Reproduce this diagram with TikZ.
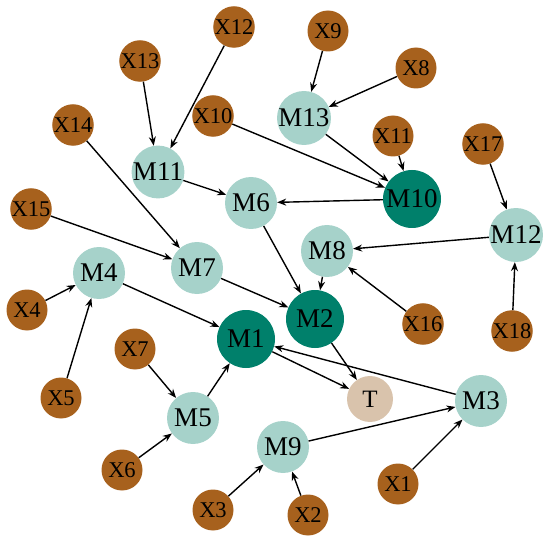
\documentclass[tikz,border=0pt]{standalone}
\usepackage{fontspec}
\setmainfont{Liberation Serif}
\usetikzlibrary{arrows.meta}
\definecolor{xbrown}{HTML}{A7611D}
\definecolor{mlight}{HTML}{A6D2CA}
\definecolor{mdeep}{HTML}{00806B}
\definecolor{tbeige}{HTML}{D9C3AC}
\begin{document}
\begin{tikzpicture}[x=1pt,y=-1pt]
        \tikzstyle{xnode}=[circle,fill=xbrown,minimum size=41pt,inner sep=0pt,font=\fontsize{22.5}{22.5}\selectfont]
        \tikzstyle{mnode}=[circle,fill=mlight,minimum size=52pt,inner sep=0pt,font=\fontsize{27}{27}\selectfont]
        \tikzstyle{mdark}=[mnode,fill=mdeep,minimum size=58pt]
        \tikzstyle{tnode}=[circle,fill=tbeige,minimum size=46pt,inner sep=0pt,font=\fontsize{25}{25}\selectfont]
        \tikzstyle{edge}=[-{Stealth[length=9pt,width=7pt]},line width=1.4pt]
        \useasboundingbox (0,0) rectangle (550,543);
        % sources
        \node[xnode] (X1) at (398,484) {X1};
        \node[xnode] (X2) at (308,515) {X2};
        \node[xnode] (X3) at (213,510) {X3};
        \node[xnode] (X4) at (27,310) {X4};
        \node[xnode] (X5) at (61,398) {X5};
        \node[xnode] (X6) at (122,470) {X6};
        \node[xnode] (X7) at (135,349) {X7};
        \node[xnode] (X8) at (416,68) {X8};
        \node[xnode] (X9) at (328,31) {X9};
        \node[xnode] (X10) at (213,116) {X10};
        \node[xnode] (X11) at (393,136) {X11};
        \node[xnode] (X12) at (234,27) {X12};
        \node[xnode] (X13) at (140,61) {X13};
        \node[xnode] (X14) at (73,125) {X14};
        \node[xnode] (X15) at (31,209) {X15};
        \node[xnode] (X16) at (423,324) {X16};
        \node[xnode] (X17) at (483,144) {X17};
        \node[xnode] (X18) at (512,331) {X18};
        % mediators
        \node[mdark] (M1) at (246,339) {M1};
        \node[mdark] (M2) at (315,319) {M2};
        \node[mnode] (M3) at (481,401) {M3};
        \node[mnode] (M4) at (99,273) {M4};
        \node[mnode] (M5) at (193,418) {M5};
        \node[mnode] (M6) at (251,203) {M6};
        \node[mnode] (M7) at (197,268) {M7};
        \node[mnode] (M8) at (327,251) {M8};
        \node[mnode] (M9) at (283,447) {M9};
        \node[mdark] (M10) at (412,199) {M10};
        \node[mnode] (M11) at (158,172) {M11};
        \node[mnode] (M12) at (516,235) {M12};
        \node[mnode] (M13) at (304,118) {M13};
        % target
        \node[tnode] (T) at (370,399) {T};
        \foreach \a/\b in {X13/M11,X12/M11,X14/M7,X15/M7,M11/M6,X10/M10,M13/M10,
                X9/M13,X8/M13,X11/M10,M10/M6,X17/M12,M12/M8,M6/M2,M8/M2,X16/M8,
                X18/M12,M7/M2,X4/M4,X5/M4,M4/M1,X7/M5,X6/M5,M5/M1,X3/M9,X2/M9,
                M9/M3,X1/M3,M3/M1,M1/T,M2/T}
                \draw[edge] (\a) -- (\b);
\end{tikzpicture}
\end{document}
